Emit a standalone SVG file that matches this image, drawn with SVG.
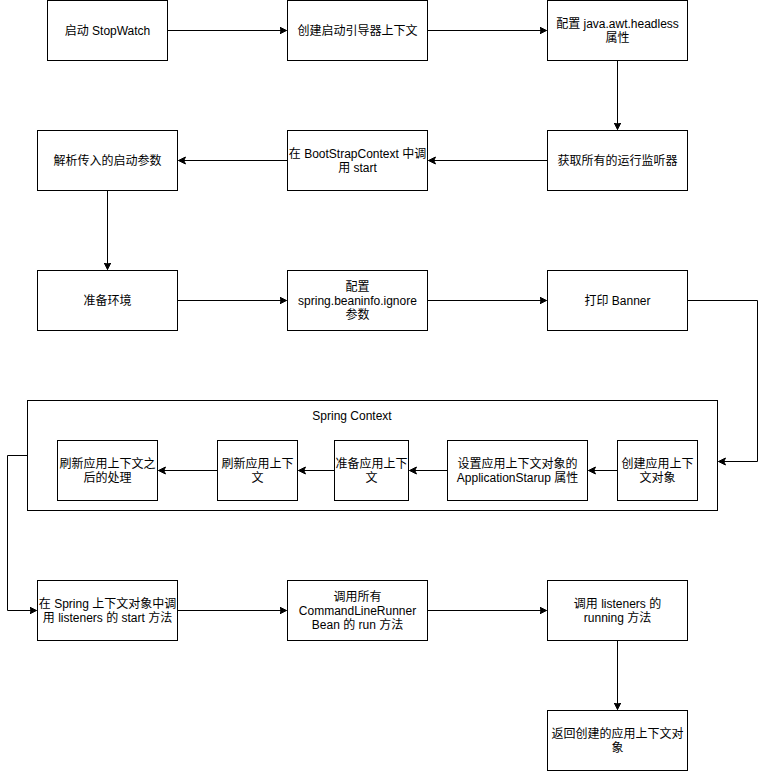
<svg xmlns="http://www.w3.org/2000/svg" width="766" height="771" viewBox="0 0 766 771">
<style>
.n{fill:#fff;stroke:#000;stroke-width:1}
.t{font-family:"Liberation Sans","Noto Sans CJK SC",sans-serif;font-size:12px;fill:#000;text-anchor:middle}
.c{fill:none;stroke:#000;stroke-width:1}
</style>
<defs>
<marker id="a" markerWidth="10" markerHeight="10" refX="7" refY="4" orient="auto" markerUnits="userSpaceOnUse">
<path d="M0,0.5 L7,4 L0,7.5 L1.75,4 Z" fill="#000" stroke="#000" stroke-width="1"/>
</marker>
</defs>
<rect width="766" height="771" fill="#fff"/>
<g id="container">
<rect class="n" x="27.5" y="400.5" width="690" height="110"/>
<text class="t" x="352" y="420">Spring Context</text>
</g>
<g id="n1"><rect class="n" x="47.5" y="0.5" width="120" height="60"/><text class="t" x="107.5" y="35">启动 StopWatch</text></g>
<g id="n2"><rect class="n" x="287.5" y="0.5" width="140" height="60"/><text class="t" x="357.5" y="35">创建启动引导器上下文</text></g>
<g id="n3"><rect class="n" x="547.5" y="0.5" width="140" height="60"/><text class="t" x="617.5" y="28">配置 java.awt.headless</text><text class="t" x="617.5" y="42">属性</text></g>
<g id="n4"><rect class="n" x="547.5" y="130.5" width="140" height="60"/><text class="t" x="617.5" y="165">获取所有的运行监听器</text></g>
<g id="n5"><rect class="n" x="287.5" y="130.5" width="140" height="60"/><text class="t" x="357.5" y="158">在 BootStrapContext 中调</text><text class="t" x="357.5" y="172">用 start</text></g>
<g id="n6"><rect class="n" x="37.5" y="130.5" width="140" height="60"/><text class="t" x="107.5" y="165">解析传入的启动参数</text></g>
<g id="n7"><rect class="n" x="37.5" y="270.5" width="140" height="60"/><text class="t" x="107.5" y="305">准备环境</text></g>
<g id="n8"><rect class="n" x="287.5" y="270.5" width="140" height="60"/><text class="t" x="357.5" y="291">配置</text><text class="t" x="357.5" y="305">spring.beaninfo.ignore</text><text class="t" x="357.5" y="319">参数</text></g>
<g id="n9"><rect class="n" x="547.5" y="270.5" width="140" height="60"/><text class="t" x="617.5" y="305">打印 Banner</text></g>
<g id="c1"><rect class="n" x="617.5" y="440.5" width="80" height="60"/><text class="t" x="657.5" y="468">创建应用上下</text><text class="t" x="657.5" y="482">文对象</text></g>
<g id="c2"><rect class="n" x="447.5" y="440.5" width="140" height="60"/><text class="t" x="517.5" y="468">设置应用上下文对象的</text><text class="t" x="517.5" y="482">ApplicationStarup 属性</text></g>
<g id="c3"><rect class="n" x="334.5" y="440.5" width="74" height="60"/><text class="t" x="371.5" y="468">准备应用上下</text><text class="t" x="371.5" y="482">文</text></g>
<g id="c4"><rect class="n" x="217.5" y="440.5" width="80" height="60"/><text class="t" x="257.5" y="468">刷新应用上下</text><text class="t" x="257.5" y="482">文</text></g>
<g id="c5"><rect class="n" x="57.5" y="440.5" width="100" height="60"/><text class="t" x="107.5" y="468">刷新应用上下文之</text><text class="t" x="107.5" y="482">后的处理</text></g>
<g id="n10"><rect class="n" x="37.5" y="580.5" width="140" height="60"/><text class="t" x="107.5" y="608">在 Spring 上下文对象中调</text><text class="t" x="107.5" y="622">用 listeners 的 start 方法</text></g>
<g id="n11"><rect class="n" x="287.5" y="580.5" width="140" height="60"/><text class="t" x="357.5" y="601">调用所有</text><text class="t" x="357.5" y="615">CommandLineRunner</text><text class="t" x="357.5" y="629">Bean 的 run 方法</text></g>
<g id="n12"><rect class="n" x="547.5" y="580.5" width="140" height="60"/><text class="t" x="617.5" y="608">调用 listeners 的</text><text class="t" x="617.5" y="622">running 方法</text></g>
<g id="n13"><rect class="n" x="547.5" y="710.5" width="140" height="60"/><text class="t" x="617.5" y="738">返回创建的应用上下文对</text><text class="t" x="617.5" y="752">象</text></g>
<g id="connectors">
<path class="c" marker-end="url(#a)" d="M167.5,30.5 H286.5"/>
<path class="c" marker-end="url(#a)" d="M427.5,30.5 H546.5"/>
<path class="c" marker-end="url(#a)" d="M617.5,60.5 V129.5"/>
<path class="c" marker-end="url(#a)" d="M547.5,160.5 H428.5"/>
<path class="c" marker-end="url(#a)" d="M287.5,160.5 H178.5"/>
<path class="c" marker-end="url(#a)" d="M107.5,190.5 V269.5"/>
<path class="c" marker-end="url(#a)" d="M177.5,300.5 H286.5"/>
<path class="c" marker-end="url(#a)" d="M427.5,300.5 H546.5"/>
<path class="c" marker-end="url(#a)" d="M687.5,300.5 H757.5 V461.5 H718.5"/>
<path class="c" marker-end="url(#a)" d="M617.5,470.5 H588.5"/>
<path class="c" marker-end="url(#a)" d="M447.5,470.5 H409.5"/>
<path class="c" marker-end="url(#a)" d="M334.5,470.5 H298.5"/>
<path class="c" marker-end="url(#a)" d="M217.5,470.5 H158.5"/>
<path class="c" marker-end="url(#a)" d="M27.5,455.5 H7.5 V610.5 H36.5"/>
<path class="c" marker-end="url(#a)" d="M177.5,610.5 H286.5"/>
<path class="c" marker-end="url(#a)" d="M427.5,610.5 H546.5"/>
<path class="c" marker-end="url(#a)" d="M617.5,640.5 V709.5"/>
</g>
</svg>
